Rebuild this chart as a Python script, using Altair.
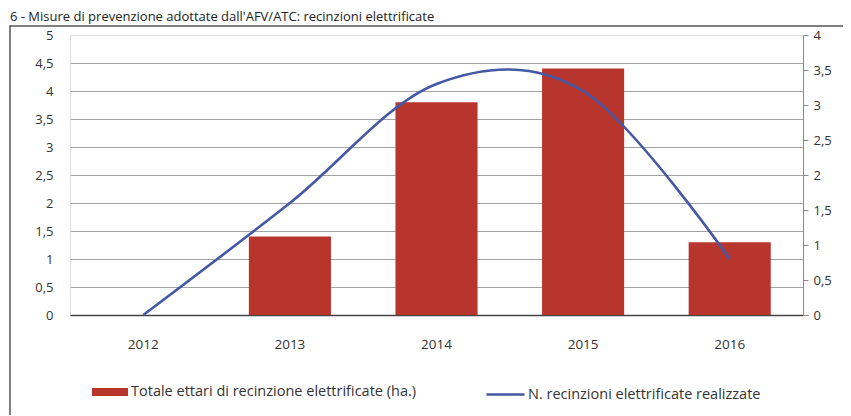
import altair as alt
import pandas as pd

years = ["2012", "2013", "2014", "2015", "2016"]
ettari = [0, 1.4, 3.8, 4.4, 1.3]
recinzioni = [0, 1.6, 3.3, 3.2, 0.8]
bar_label = "Totale ettari di recinzione elettrificate (ha.)"
line_label = "N. recinzioni elettrificate realizzate"
title_text = "6 - Misure di prevenzione adottate dall'AFV/ATC: recinzioni elettrificate"
left_ticks = [0, 0.5, 1, 1.5, 2, 2.5, 3, 3.5, 4, 4.5, 5]
right_ticks = [0, 0.5, 1, 1.5, 2, 2.5, 3, 3.5, 4]

RED = "#b8352d"
BLUE = "#4458a4"
FONT = "Open Sans"
comma = "replace(toString(datum.value), '.', ',')"

df = pd.DataFrame({
    "anno": years,
    "ettari": ettari,
    "recinzioni": recinzioni,
    "s1": bar_label,
    "s2": line_label,
})

x_enc = alt.X(
    "anno:N",
    sort=years,
    scale=alt.Scale(paddingInner=0.44, paddingOuter=0.22),
    axis=alt.Axis(title=None, labelAngle=0, domain=False, ticks=False,
                  labelPadding=22, labelFontSize=13.5, labelColor="#333",
                  labelFont=FONT, grid=False),
)

bars = alt.Chart(df).mark_bar(strokeWidth=0).encode(
    x=x_enc,
    y=alt.Y(
        "ettari:Q",
        scale=alt.Scale(domain=[0, 5], nice=False),
        axis=alt.Axis(
            title=None, values=left_ticks, labelExpr=comma, domain=False, ticks=False,
            labelPadding=17, labelFontSize=13, labelColor="#333", labelFont=FONT,
            grid=True,
            gridColor={"condition": {"test": "datum.value == 0", "value": "#444"}, "value": "#a3a3a3"},
            gridOpacity={"condition": {"test": "datum.value >= 5", "value": 0}, "value": 1},
            gridWidth={"condition": {"test": "datum.value == 0", "value": 1.5}, "value": 1},
        ),
    ),
    color=alt.Color(
        "s1:N",
        scale=alt.Scale(domain=[bar_label], range=[RED]),
        legend=alt.Legend(
            title=None, orient="none", legendX=22, legendY=339,
            symbolType="M-1,-0.22H1V0.22H-1Z", symbolSize=1296,
            symbolStrokeWidth=0, labelFontSize=14.5, labelFont=FONT,
            labelColor="#333", labelOffset=3, padding=0, labelLimit=0,
        ),
    ),
)

line = alt.Chart(df).mark_line(interpolate="cardinal", strokeWidth=2.6).encode(
    x=alt.X("anno:N", sort=years),
    y=alt.Y(
        "recinzioni:Q",
        scale=alt.Scale(domain=[0, 4], nice=False),
        axis=alt.Axis(
            title=None, orient="right", values=right_ticks, labelExpr=comma,
            domain=True, domainColor="#8a8a8a", ticks=True, tickColor="#8a8a8a",
            tickSize=5, labelPadding=5, labelFontSize=13, labelColor="#333",
            labelFont=FONT, grid=False,
        ),
    ),
    stroke=alt.Stroke(
        "s2:N",
        scale=alt.Scale(domain=[line_label], range=[BLUE]),
        legend=alt.Legend(
            title=None, orient="none", legendX=415, legendY=339,
            symbolType="stroke", symbolSize=1444, symbolStrokeWidth=2.5,
            labelFontSize=14.5, labelFont=FONT, labelColor="#333",
            labelOffset=2, padding=0, labelLimit=0,
        ),
    ),
)

box_df = pd.DataFrame({"k": [0]})
box = alt.Chart(box_df).mark_rect(filled=False, stroke="#555", strokeWidth=1.5).encode(
    x=alt.value(-60), x2=alt.value(778), y=alt.value(-9), y2=alt.value(395)
)

title = alt.Chart(box_df).mark_text(
    text=title_text, align="left", baseline="alphabetic",
    fontSize=13, font=FONT, color="#222",
).encode(x=alt.value(-60), y=alt.value(-14))

chart = alt.layer(box, title, bars, line).resolve_scale(
    y="independent", color="independent", stroke="independent"
).properties(
    width=733, height=280,
    autosize=alt.AutoSizeParams(type="none"),
    padding={"left": 62, "top": 27, "right": 40, "bottom": 100},
).configure_view(stroke=None).configure(background="white")

chart.save("out.html", embed_options={"renderer": "svg", "actions": False})
